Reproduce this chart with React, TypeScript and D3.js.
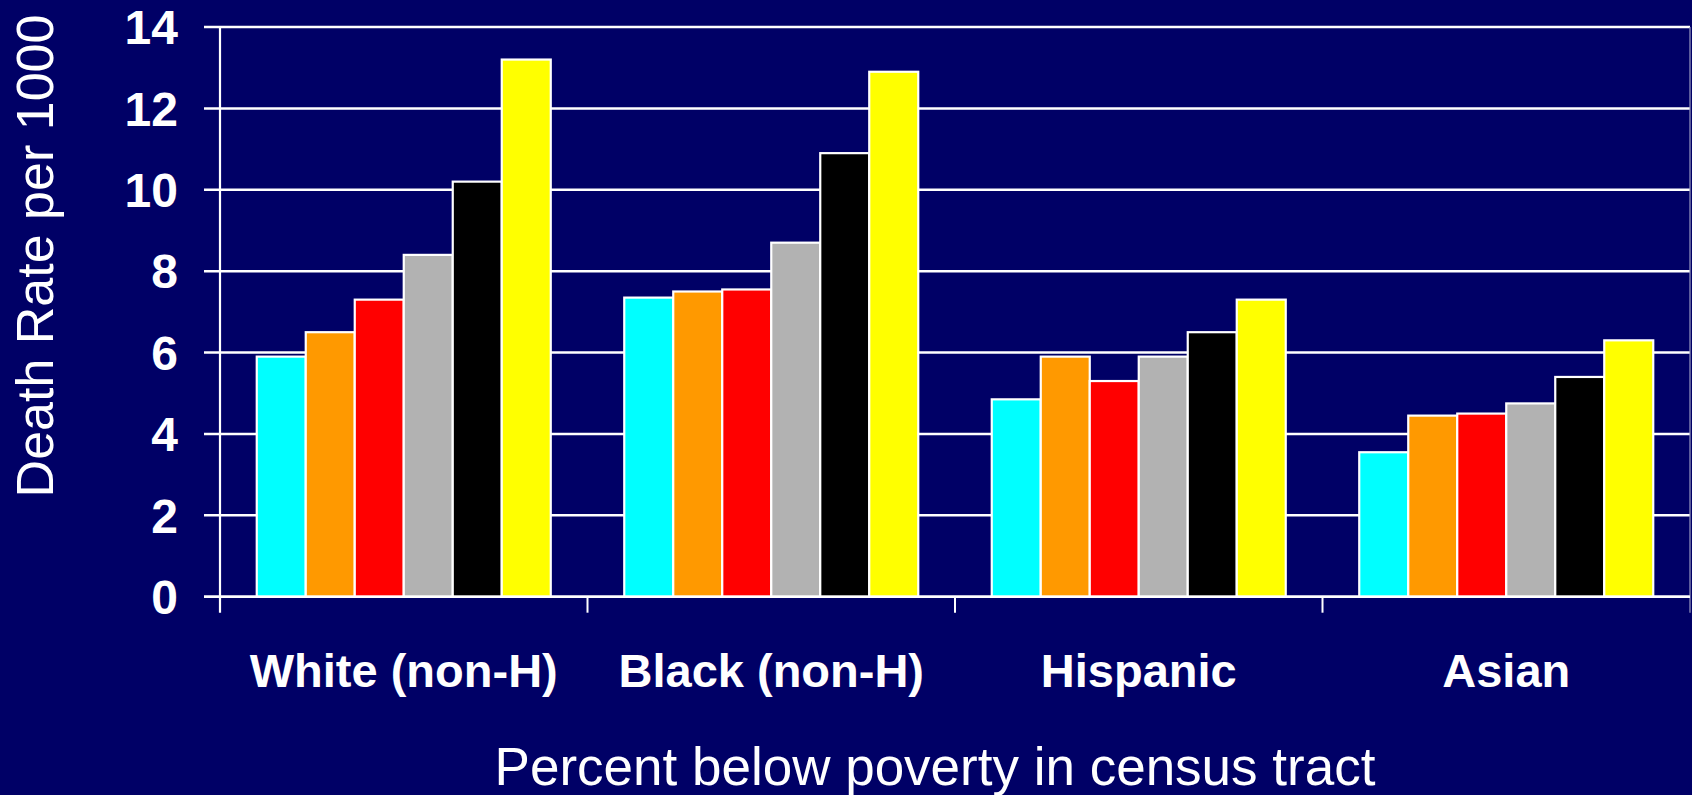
import React from "react";
import * as d3 from "d3";

// Death rate per 1000 by census-tract poverty level, within each group
const categories = ["White (non-H)", "Black (non-H)", "Hispanic", "Asian"];
const povertyBins = ["0-4.9%", "5-9.9%", "10-14.9%", "15-19.9%", "20-39.9%", "40%+"];
const binColors = ["#00FFFF", "#FF9900", "#FF0000", "#B2B2B2", "#000000", "#FFFF00"];

const whiteRates = [5.9, 6.5, 7.3, 8.4, 10.2, 13.2];
const blackRates = [7.35, 7.5, 7.55, 8.7, 10.9, 12.9];
const hispanicRates = [4.85, 5.9, 5.3, 5.9, 6.5, 7.3];
const asianRates = [3.55, 4.45, 4.5, 4.75, 5.4, 6.3];

const rates = [whiteRates, blackRates, hispanicRates, asianRates];

const yTickValues = [0, 2, 4, 6, 8, 10, 12, 14];

const W = 1692;
const H = 795;
const BG = "#000066";
const FONT = "'Liberation Sans', Arial, Helvetica, sans-serif";

export default function App() {
  const left = 220;
  const right = 1690;
  const top = 27;
  const bottom = 596.7;

  const x0 = d3.scaleBand<string>().domain(categories).range([left, right]).padding(0);
  const groupW = x0.bandwidth();
  const barW = groupW / (povertyBins.length + 1.5);
  const inset = (groupW - barW * povertyBins.length) / 2;
  const x1 = d3
    .scaleBand<string>()
    .domain(povertyBins)
    .range([inset, groupW - inset])
    .padding(0);
  const y = d3.scaleLinear().domain([0, 14]).range([bottom, top]);

  const boundaries = [...categories.map((c) => x0(c) as number), right];

  return (
    <div style={{ position: "absolute", left: 0, top: 0, width: W, height: H, background: BG }}>
      <svg width={W} height={H} style={{ display: "block" }} fontFamily={FONT}>
        <rect x={0} y={0} width={W} height={H} fill={BG} />

        {/* horizontal gridlines with their left ticks */}
        {yTickValues.map((t) => (
          <line
            key={"g" + t}
            x1={left - 16}
            x2={right}
            y1={y(t)}
            y2={y(t)}
            stroke="#FFFFFF"
            strokeWidth={2.5}
          />
        ))}

        {/* right edge of plot area */}
        <line x1={right} x2={right} y1={top} y2={bottom + 16} stroke="#9a9ac0" strokeWidth={1.2} />

        {/* bars */}
        {categories.map((c, ci) => (
          <g key={c} transform={`translate(${x0(c)},0)`}>
            {povertyBins.map((b, bi) => {
              const v = rates[ci][bi];
              return (
                <rect
                  key={b}
                  x={x1(b)}
                  y={y(v)}
                  width={x1.bandwidth()}
                  height={bottom - y(v)}
                  fill={binColors[bi]}
                  stroke="#FFFFFF"
                  strokeWidth={2.2}
                />
              );
            })}
          </g>
        ))}

        {/* axes */}
        <line x1={left} x2={left} y1={top - 1} y2={bottom + 16} stroke="#FFFFFF" strokeWidth={2.2} />
        <line x1={left - 16} x2={right} y1={bottom} y2={bottom} stroke="#FFFFFF" strokeWidth={2.5} />
        {boundaries.slice(1, -1).map((bx, i) => (
          <line key={"b" + i} x1={bx} x2={bx} y1={bottom} y2={bottom + 16} stroke="#FFFFFF" strokeWidth={2} />
        ))}

        {/* y tick labels */}
        {yTickValues.map((t) => (
          <text
            key={"l" + t}
            x={178}
            y={y(t) + 17.2}
            textAnchor="end"
            fill="#FFFFFF"
            fontSize={48}
            fontWeight="bold"
          >
            {t}
          </text>
        ))}

        {/* category labels */}
        {categories.map((c) => (
          <text
            key={"c" + c}
            x={(x0(c) as number) + groupW / 2}
            y={687}
            textAnchor="middle"
            fill="#FFFFFF"
            fontSize={47}
            fontWeight="bold"
          >
            {c}
          </text>
        ))}

        {/* axis titles */}
        <text x={935} y={785} textAnchor="middle" fill="#FFFFFF" fontSize={53}>
          Percent below poverty in census tract
        </text>
        <text
          transform={`translate(53,256) rotate(-90)`}
          textAnchor="middle"
          fill="#FFFFFF"
          fontSize={52}
        >
          Death Rate per 1000
        </text>
      </svg>
    </div>
  );
}
